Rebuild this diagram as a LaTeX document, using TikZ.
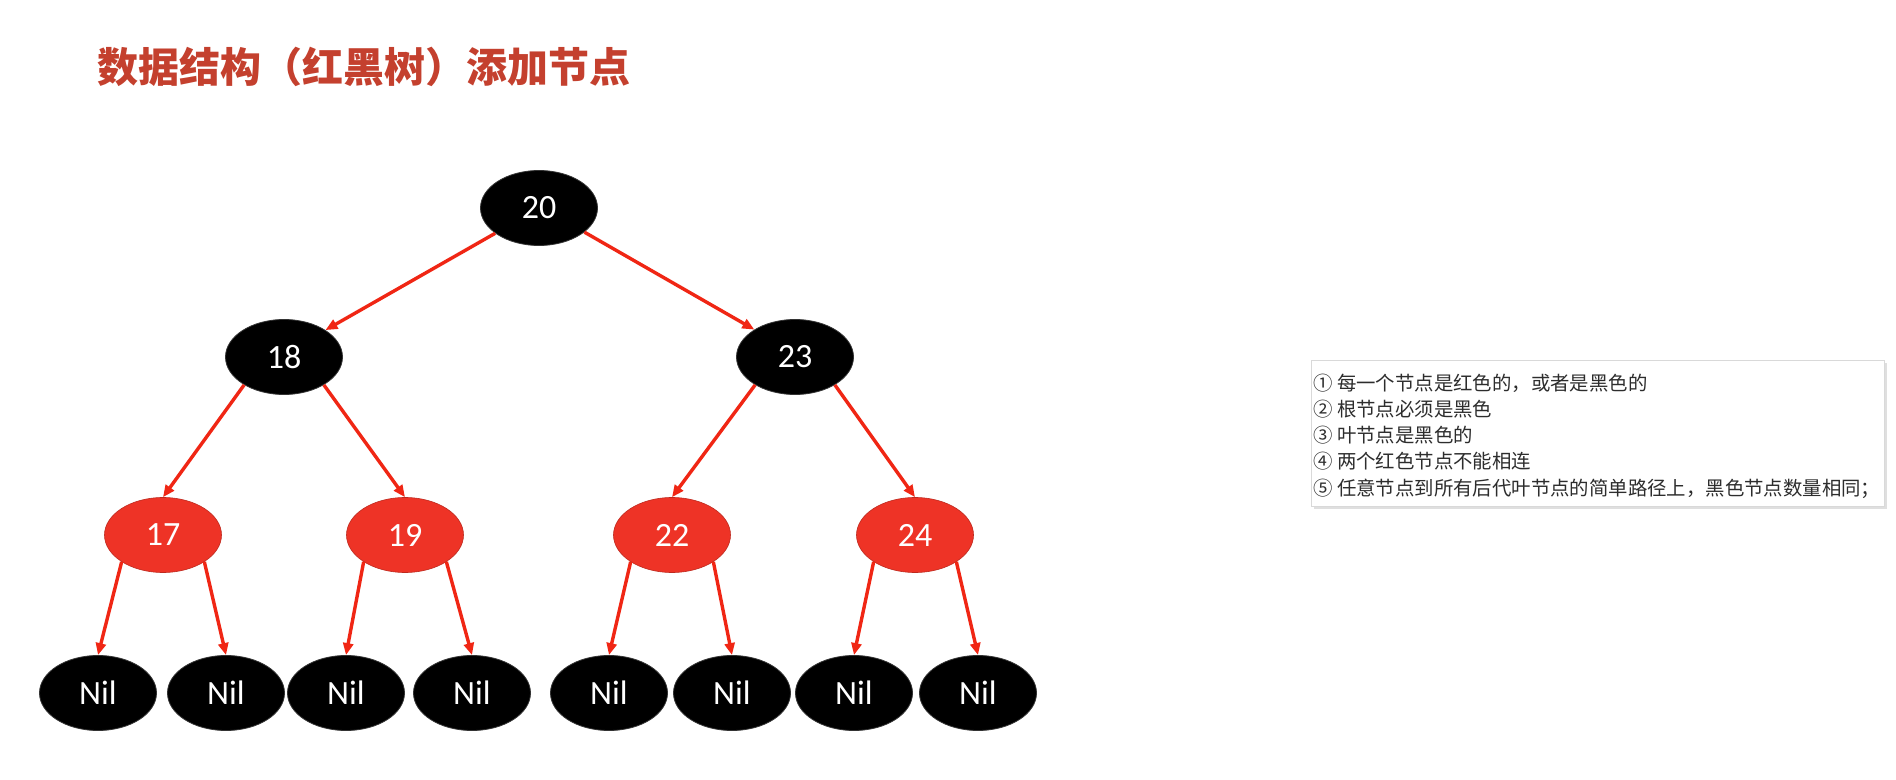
\documentclass[tikz,border=0pt]{standalone}
\usepackage{fontspec}
\setmainfont{Carlito}
\newfontfamily\cjk{Noto Sans CJK SC}
\usetikzlibrary{arrows.meta,shapes.geometric,shadows}
\definecolor{rbred}{RGB}{238,51,38}
\definecolor{edgered}{RGB}{240,38,20}
\definecolor{titlered}{RGB}{196,64,46}
\definecolor{ruletext}{RGB}{45,45,45}
\begin{document}
\begin{tikzpicture}[x=0.5pt,y=-0.5pt,
  rb/.style={ellipse, minimum width=58.5pt, minimum height=37.5pt, inner sep=0pt, text=white, font=\fontsize{17}{17}\selectfont},
  blk/.style={rb, fill=black, draw=black!80, line width=0.4pt},
  rd/.style={rb, fill=rbred, draw=rbred!80!black, line width=0.3pt},
  edge/.style={draw=edgered, line width=1.7pt, -{Triangle[length=6pt,width=5pt]}},
  rule/.style={anchor=base west, inner sep=0pt, text=ruletext, font=\cjk\fontsize{9.7}{9.7}\selectfont},
]
\fill[white] (0,0) rectangle (1896,780);
\useasboundingbox (0,0) rectangle (1896,780);

% title
\node[anchor=west, inner sep=0pt, text=titlered, font=\cjk\bfseries\fontsize{20.5}{20.5}\selectfont] (title) at (97,67) {数据结构（红黑树）添加节点};

% tree
\node[blk] (n20) at (539,208) {20};
\node[blk] (n18) at (284,357) {18};
\node[blk] (n23) at (795,357) {23};
\node[rd] (n17) at (163,535) {17};
\node[rd] (n19) at (405,535) {19};
\node[rd] (n22) at (672,535) {22};
\node[rd] (n24) at (915,535) {24};
\node[blk] (nil1) at (98,693) {Nil};
\node[blk] (nil2) at (226,693) {Nil};
\node[blk] (nil3) at (346,693) {Nil};
\node[blk] (nil4) at (472,693) {Nil};
\node[blk] (nil5) at (609,693) {Nil};
\node[blk] (nil6) at (732,693) {Nil};
\node[blk] (nil7) at (854,693) {Nil};
\node[blk] (nil8) at (978,693) {Nil};

\draw[edge] (n20.-150) -- (n18.33);
\draw[edge] (n20.-28) -- (n23.146);
\draw[edge] (n18.-145) -- (n17.north);
\draw[edge] (n18.-35) -- (n19.north);
\draw[edge] (n23.-145) -- (n22.north);
\draw[edge] (n23.-35) -- (n24.north);
\draw[edge] (n17.-147) -- (nil1.north);
\draw[edge] (n17.-33) -- (nil2.north);
\draw[edge] (n19.-147) -- (nil3.north);
\draw[edge] (n19.-33) -- (nil4.north);
\draw[edge] (n22.-147) -- (nil5.north);
\draw[edge] (n22.-33) -- (nil6.north);
\draw[edge] (n24.-147) -- (nil7.north);
\draw[edge] (n24.-33) -- (nil8.north);

% rules box
\node[draw=black!15, fill=white, line width=0.5pt,
      drop shadow={opacity=0.25, shadow xshift=1pt, shadow yshift=-1.2pt},
      minimum width=286.5pt, minimum height=73pt, inner sep=0pt, anchor=north west] (box) at (1311,360) {};
\node[rule] (l1) at (1313,391) {① 每一个节点是红色的，或者是黑色的};
\node[rule] (l2) at (1313,417) {② 根节点必须是黑色};
\node[rule] (l3) at (1313,443) {③ 叶节点是黑色的};
\node[rule] (l4) at (1313,469) {④ 两个红色节点不能相连};
\node[rule] (l5) at (1313,495) {⑤ 任意节点到所有后代叶节点的简单路径上，黑色节点数量相同；};
\end{tikzpicture}
\end{document}
